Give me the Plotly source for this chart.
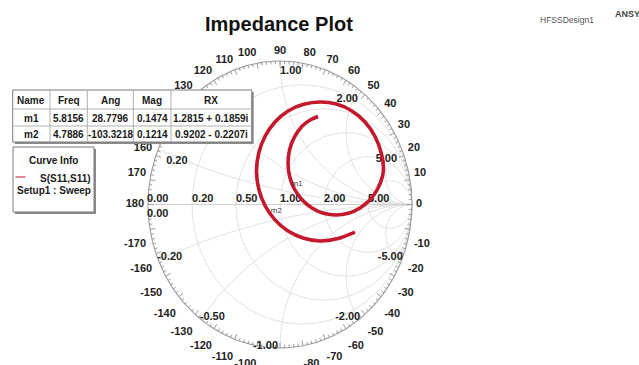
import numpy as np
import plotly.graph_objects as go

# ---- S11 sweep as reflection coefficient (real / imaginary part), low -> high frequency ----
s11_re = [0.568, 0.439, 0.303, 0.174, 0.061, -0.038, -0.114, -0.161, -0.178, -0.161,
          -0.114, -0.038, 0.061, 0.179, 0.303, 0.427, 0.545, 0.644, 0.720, 0.767,
          0.784, 0.776, 0.739, 0.682, 0.606, 0.518, 0.424, 0.330, 0.242, 0.167,
          0.109, 0.073, 0.061, 0.073, 0.109, 0.167, 0.235, 0.288]
s11_im = [-0.192, -0.237, -0.254, -0.233, -0.185, -0.107, -0.007, 0.108, 0.233, 0.359,
          0.474, 0.575, 0.652, 0.698, 0.714, 0.700, 0.652, 0.575, 0.474, 0.359,
          0.254, 0.195, 0.108, 0.033, -0.024, -0.061, -0.073, -0.061, -0.024, 0.033,
          0.108, 0.195, 0.289, 0.383, 0.470, 0.546, 0.592, 0.613]

# ---- marker table ----
table_head = ["Name", "Freq", "Ang", "Mag", "RX"]
mk_name = ["m1", "m2"]
mk_freq = ["5.8156", "4.7886"]
mk_ang = [28.7796, -103.3218]
mk_mag = [0.1474, 0.1214]
mk_rx = ["1.2815 + 0.1859i", "0.9202 - 0.2207i"]

# ---- Smith chart grid values ----
r_circles = [0.2, 0.5, 1.0, 2.0, 5.0]
x_arcs = [0.2, 0.5, 1.0, 2.0, 5.0, -0.2, -0.5, -1.0, -2.0, -5.0]
angle_ticks = list(range(-170, 190, 10))

curve_name = "S(S11,S11)"
curve_setup = "Setup1 : Sweep"

W, H = 639, 365
CX, CY = 280.0, 204.5      # pixel position of the chart centre
SX, SY = 132.0, 143.5      # pixels per unit of |Gamma| (horizontal / vertical)
FONT = "Liberation Sans, Arial, sans-serif"
RED = "#c4182c"
GRID = "#e2e2e2"
RIM = "#9c9c9c"

# marker table panel (pixels)
col_px = [12.7, 50, 87.3, 133.3, 171, 251.7]
row_px = [90, 109, 126, 142]


def gx(px):
    return (px - CX) / SX


def gy(py):
    return (CY - py) / SY


def paper_x(px):
    return px / W


def paper_y(py):
    return 1 - py / H


def text_w(s, size=11):
    w = 0.0
    for ch in s:
        if ch.isdigit():
            w += 0.556
        elif ch == ".":
            w += 0.278
        elif ch == "-":
            w += 0.333
        else:
            w += 0.55
    return w * size


def under_table(px, py):
    return col_px[0] <= px <= col_px[-1] + 2 and row_px[0] <= py <= row_px[-1] + 2


fig = go.Figure()

# ---- grid: resistance circles, reactance arcs, real axis ----
grid_x, grid_y = [], []
t = np.linspace(0, 2 * np.pi, 361)
for r in r_circles:
    c, rad = r / (1 + r), 1 / (1 + r)
    grid_x += list(c + rad * np.cos(t)) + [None]
    grid_y += list(rad * np.sin(t)) + [None]
rs = np.concatenate([[0.0], np.logspace(-3, 4, 600)])
for x in x_arcs:
    z = rs + 1j * x
    g = (z - 1) / (z + 1)
    grid_x += list(g.real) + [None]
    grid_y += list(g.imag) + [None]
fig.add_trace(go.Scatter(x=grid_x, y=grid_y, mode="lines",
                         line=dict(color=GRID, width=1), hoverinfo="skip"))
fig.add_trace(go.Scatter(x=[-1, 1], y=[0, 0], mode="lines",
                         line=dict(color="#cfcfcf", width=1), hoverinfo="skip"))

# ---- outer rim and angle ticks ----
fig.add_trace(go.Scatter(x=np.cos(t), y=np.sin(t), mode="lines",
                         line=dict(color=RIM, width=1.1), hoverinfo="skip"))
tk_x, tk_y = [], []
for a in range(-180, 180, 2):
    L = 5.5 if a % 10 == 0 else 3.0
    c, s = np.cos(np.radians(a)), np.sin(np.radians(a))
    tk_x += [c, c * (1 - L / SX), None]
    tk_y += [s, s * (1 - L / SY), None]
fig.add_trace(go.Scatter(x=tk_x, y=tk_y, mode="lines",
                         line=dict(color=RIM, width=1), hoverinfo="skip"))

lab_x, lab_y, lab_t = [], [], []


def add_label(cx, cy, txt):
    if under_table(cx, cy):
        return
    lab_x.append(gx(cx))
    lab_y.append(gy(cy))
    lab_t.append(txt)


# ---- angle labels around the rim ----
for a in angle_ticks:
    c, s = np.cos(np.radians(a)), np.sin(np.radians(a))
    px, py = CX + SX * c, CY - SY * s
    qx, qy = px + 4 * c, py - 4 * s
    txt = str(a)
    w = text_w(txt)
    if abs(c) < 1e-6:
        cx = qx
    elif c > 0:
        cx = qx + w / 2
    else:
        cx = qx - w / 2
    if a in (0, 180):
        cy = qy
    elif s > 0:
        cy = qy - 5.5
    else:
        cy = qy + 14.5
    add_label(cx, cy, txt)

# ---- resistance labels on the real axis ----
for r in [0.0] + r_circles:
    cross = CX + SX * (r - 1) / (r + 1)
    txt = f"{r:.2f}"
    add_label(cross + text_w(txt) / 2 - (1 if r == 0 else 0), 199.5, txt)
# zero reactance label just under the axis
add_label(CX - SX - 1 + text_w("0.00") / 2, 214, "0.00")

# ---- reactance labels where the arcs meet the rim ----
for x in x_arcs:
    hit = ((x * x - 1) + 2j * x) / (x * x + 1)
    hx, hy = CX + SX * hit.real, CY - SY * hit.imag
    txt = f"{x:.2f}"
    w = text_w(txt)
    if x > 0:
        cy = hy + (12 if x < 0.3 else 10)
        if x <= 1:
            cx = hx + 10 * (1 - x) + w / 2
        else:
            cx = hx - 1.2 * (x - 1) - w / 2
    else:
        cy = hy - 2
        if abs(x) < 1:
            cx = hx - 1 + w / 2
        else:
            cx = hx + (1 if abs(x) > 1 else -2) - w / 2
    add_label(cx, cy, txt)

fig.add_trace(go.Scatter(x=lab_x, y=lab_y, text=lab_t, mode="text",
                         textposition="middle center", cliponaxis=False,
                         textfont=dict(family=FONT, size=11, color="#222222", weight="bold"),
                         hoverinfo="skip"))

# ---- S11 curve ----
fig.add_trace(go.Scatter(x=s11_re, y=s11_im, mode="lines", name=curve_name,
                         line=dict(color=RED, width=3.6, shape="spline", smoothing=0.8)))

# ---- markers from the table values (|Gamma|, angle) ----
mk_gamma = [m * np.exp(1j * np.radians(a)) for m, a in zip(mk_mag, mk_ang)]
fig.add_trace(go.Scatter(x=[g.real for g in mk_gamma], y=[g.imag for g in mk_gamma],
                         text=mk_name, mode="markers+text", textposition="top center",
                         marker=dict(size=8, color="rgba(0,0,0,0)"),
                         textfont=dict(family=FONT, size=8, color="#444444"),
                         hoverinfo="skip"))

shapes = []
annotations = []


def box(x0, y0, x1, y1):
    # drop shadow then the white panel
    shapes.append(dict(type="rect", xref="paper", yref="paper", layer="above",
                       x0=paper_x(x0 + 2), x1=paper_x(x1 + 2),
                       y0=paper_y(y1 + 2), y1=paper_y(y0 + 2),
                       fillcolor="#8c8c8c", line=dict(width=0)))
    shapes.append(dict(type="rect", xref="paper", yref="paper", layer="above",
                       x0=paper_x(x0), x1=paper_x(x1), y0=paper_y(y1), y1=paper_y(y0),
                       fillcolor="white", line=dict(color="#7a7a7a", width=1)))


def label(px, py, txt, size=10, color="#1a1a1a", bold=True, anchor="center"):
    annotations.append(dict(xref="paper", yref="paper", x=paper_x(px), y=paper_y(py),
                            text=f"<b>{txt}</b>" if bold else txt, showarrow=False,
                            xanchor=anchor, yanchor="middle",
                            font=dict(family=FONT, size=size, color=color)))


# ---- marker table ----
box(col_px[0], row_px[0], col_px[-1], row_px[-1])
for xv in col_px[1:-1]:
    shapes.append(dict(type="line", xref="paper", yref="paper", layer="above",
                       x0=paper_x(xv), x1=paper_x(xv), y0=paper_y(row_px[-1]), y1=paper_y(row_px[0]),
                       line=dict(color="#b0b0b0", width=1)))
for yv in row_px[1:-1]:
    shapes.append(dict(type="line", xref="paper", yref="paper", layer="above",
                       x0=paper_x(col_px[0]), x1=paper_x(col_px[-1]), y0=paper_y(yv), y1=paper_y(yv),
                       line=dict(color="#b0b0b0", width=1)))
rows = [table_head]
for i in range(len(mk_name)):
    rows.append([mk_name[i], mk_freq[i], f"{mk_ang[i]:.4f}", f"{mk_mag[i]:.4f}", mk_rx[i]])
for ri, row in enumerate(rows):
    cy = (row_px[ri] + row_px[ri + 1]) / 2 + 0.5
    for ci, cell in enumerate(row):
        label((col_px[ci] + col_px[ci + 1]) / 2, cy, cell)

# ---- curve info box ----
box(13, 147, 94, 212)
label(53.5, 160, "Curve Info")
shapes.append(dict(type="line", xref="paper", yref="paper", layer="above",
                   x0=paper_x(15.5), x1=paper_x(25.5), y0=paper_y(177), y1=paper_y(177),
                   line=dict(color=RED, width=1)))
label(65.5, 178, curve_name)
label(54, 190, curve_setup)

# ---- titles ----
label(279, 24, "Impedance Plot", size=20, color="#111111")
label(567, 20, "HFSSDesign1", size=8.5, color="#555555", bold=False)
label(613, 14, "ANSYS", size=9, color="#444444", anchor="left")

fig.update_layout(
    width=W, height=H,
    margin=dict(l=0, r=0, t=0, b=0),
    paper_bgcolor="white", plot_bgcolor="white",
    showlegend=False,
    xaxis=dict(range=[-CX / SX, (W - CX) / SX], autorange=False, visible=False,
               domain=[0, 1], fixedrange=True),
    yaxis=dict(range=[-(H - CY) / SY, CY / SY], autorange=False, visible=False,
               domain=[0, 1], fixedrange=True),
    shapes=shapes,
    annotations=annotations,
)

fig.write_html("out.html")
